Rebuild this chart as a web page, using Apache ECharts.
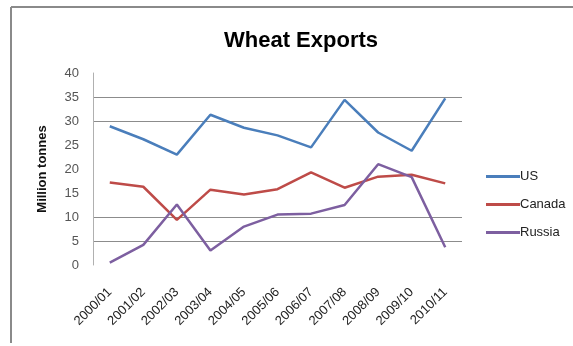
<!DOCTYPE html>
<html><head><meta charset="utf-8">
<script src="https://cdn.jsdelivr.net/npm/echarts@6/dist/echarts.min.js"></script>
<style>html,body{margin:0;padding:0;background:#fff}#c{width:573px;height:346px}</style>
</head><body><div id="c"></div>
<script>
const categories = ['2000/01','2001/02','2002/03','2003/04','2004/05','2005/06','2006/07','2007/08','2008/09','2009/10','2010/11'];
const us = [28.9, 26.2, 23.0, 31.3, 28.6, 27.0, 24.5, 34.4, 27.6, 23.8, 34.7];
const canada = [17.2, 16.3, 9.4, 15.7, 14.7, 15.8, 19.3, 16.1, 18.4, 18.8, 17.0];
const russia = [0.5, 4.2, 12.6, 3.0, 8.0, 10.5, 10.7, 12.5, 21.0, 18.3, 3.7];
const yTicks = [0, 5, 10, 15, 20, 25, 30, 35, 40];

const chart = echarts.init(document.getElementById('c'), null, {renderer: 'canvas'});
const font = 'Liberation Sans';
const gridColors = yTicks.map(v => (v === 5 || v === 10 || v === 30 || v === 35) ? '#8c8c8c' : 'rgba(0,0,0,0)');
chart.setOption({
  animation: false,
  title: {text: 'Wheat Exports', left: 296, top: 25, textAlign: 'center',
    textStyle: {fontFamily: font, fontSize: 22, fontWeight: 'bold', color: '#000'}},
  graphic: [
    {type: 'line', shape: {x1: 11, y1: 7, x2: 573, y2: 7}, style: {stroke: '#8a8a8a', lineWidth: 2}},
    {type: 'line', shape: {x1: 11, y1: 7, x2: 11, y2: 343}, style: {stroke: '#8a8a8a', lineWidth: 2}}
  ],
  legend: {
    orient: 'vertical', left: 481, top: 165, itemGap: 15, itemWidth: 34, itemHeight: 3,
    icon: 'rect',
    textStyle: {fontFamily: font, fontSize: 13, color: '#222', padding: [0, 0, 0, -5]},
    data: ['US', 'Canada', 'Russia']
  },
  grid: {left: 93, right: 111, top: 73, bottom: 81},
  xAxis: {
    type: 'category', data: categories, boundaryGap: true,
    axisLine: {show: false}, axisTick: {show: false},
    axisLabel: {rotate: 45, margin: 25, fontFamily: font, fontSize: 13, color: '#222', interval: 0}
  },
  yAxis: {
    type: 'value', min: 0, max: 40, interval: 5,
    name: 'Million tonnes', nameLocation: 'middle', nameGap: 44, nameRotate: 90,
    nameTextStyle: {fontFamily: font, fontSize: 13, fontWeight: 'bold', color: '#111'},
    axisLine: {show: true, lineStyle: {color: '#b0b0b0', width: 1}},
    axisTick: {show: false},
    axisLabel: {fontFamily: font, fontSize: 13, color: '#555', margin: 14,
      formatter: v => yTicks.includes(v) ? String(v) : ''},
    splitLine: {show: true, lineStyle: {color: gridColors, width: 1}}
  },
  series: [
    {name: 'US', type: 'line', data: us, symbol: 'none', lineStyle: {color: '#4a7ebb', width: 2.5}, itemStyle: {color: '#4a7ebb'}},
    {name: 'Canada', type: 'line', data: canada, symbol: 'none', lineStyle: {color: '#be4b48', width: 2.5}, itemStyle: {color: '#be4b48'}},
    {name: 'Russia', type: 'line', data: russia, symbol: 'none', lineStyle: {color: '#7d5fa0', width: 2.5}, itemStyle: {color: '#7d5fa0'}}
  ]
});
</script></body></html>
